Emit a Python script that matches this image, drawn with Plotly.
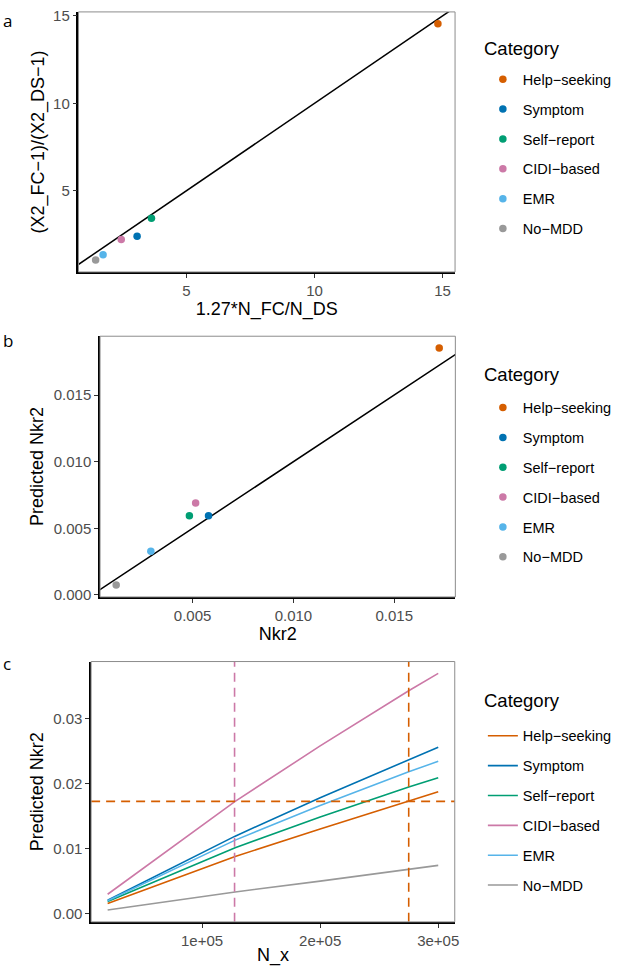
import plotly.graph_objects as go

# ---- data ----
categories = ["Help−seeking", "Symptom", "Self−report", "CIDI−based", "EMR", "No−MDD"]
colors = ["#D55E00", "#0072B2", "#009E73", "#CC79A7", "#56B4E9", "#999999"]

# panel a: observed ratio vs expected ratio
ratio_expected = [14.82, 3.07, 3.63, 2.45, 1.74, 1.45]
ratio_observed = [14.55, 2.40, 3.42, 2.21, 1.34, 1.03]

# panel b: Nkr2 vs predicted Nkr2
nkr2 = [0.01723, 0.00579, 0.00484, 0.00515, 0.00293, 0.00121]
nkr2_pred = [0.01852, 0.00594, 0.00594, 0.00690, 0.00328, 0.00074]

# panel c: predicted Nkr2 as a function of N_x
n_x = [20000, 128000, 200000, 275000, 300000]
pred_curves = {
    "Help−seeking": [0.00152, 0.00874, 0.01298, 0.01722, 0.01869],
    "Symptom":      [0.00202, 0.01187, 0.01778, 0.02364, 0.02556],
    "Self−report":  [0.00182, 0.01010, 0.01480, 0.01944, 0.02086],
    "CIDI−based":   [0.00293, 0.01722, 0.02576, 0.03424, 0.03692],
    "EMR":          [0.00192, 0.01126, 0.01657, 0.02177, 0.02338],
    "No−MDD":       [0.00050, 0.00328, 0.00495, 0.00672, 0.00737],
}
ref_nkr2 = 0.01722          # horizontal dashed line (Help-seeking Nkr2)
n_cidi = 127500             # pink vertical dashed line
n_help = 275000             # orange vertical dashed line

identity = [-1, 100]        # y = x reference line

W, H = 622, 978
FONT = "Liberation Sans, Arial, sans-serif"


def px_x(a, b):
    return [a / W, b / W]


def px_y(top, bottom):
    return [1 - bottom / H, 1 - top / H]


fig = go.Figure()

# panel a
fig.add_trace(go.Scatter(x=identity, y=identity, mode="lines", line=dict(color="black", width=1.5),
                         showlegend=False, hoverinfo="skip", xaxis="x", yaxis="y"))
for cat, col, xv, yv in zip(categories, colors, ratio_expected, ratio_observed):
    fig.add_trace(go.Scatter(x=[xv], y=[yv], mode="markers", name=cat,
                             marker=dict(color=col, size=7.5), legend="legend",
                             legendgroup="a" + cat, xaxis="x", yaxis="y"))

# panel b
fig.add_trace(go.Scatter(x=identity, y=identity, mode="lines", line=dict(color="black", width=1.5),
                         showlegend=False, hoverinfo="skip", xaxis="x2", yaxis="y2"))
for cat, col, xv, yv in zip(categories, colors, nkr2, nkr2_pred):
    fig.add_trace(go.Scatter(x=[xv], y=[yv], mode="markers", name=cat,
                             marker=dict(color=col, size=7.5), legend="legend2",
                             legendgroup="b" + cat, xaxis="x2", yaxis="y2"))

# panel c
for cat, col in zip(categories, colors):
    fig.add_trace(go.Scatter(x=n_x, y=pred_curves[cat], mode="lines", name=cat,
                             line=dict(color=col, width=1.6), legend="legend3",
                             legendgroup="c" + cat, xaxis="x3", yaxis="y3"))

dash = "9px,6px"
fig.add_shape(type="line", xref="x3", yref="y3 domain", x0=n_cidi, x1=n_cidi, y0=0, y1=1,
              line=dict(color="#CC79A7", width=1.6, dash=dash))
fig.add_shape(type="line", xref="x3", yref="y3 domain", x0=n_help, x1=n_help, y0=0, y1=1,
              line=dict(color="#D55E00", width=1.6, dash=dash))
fig.add_shape(type="line", xref="x3 domain", yref="y3", x0=0, x1=1, y0=ref_nkr2, y1=ref_nkr2,
              line=dict(color="#D55E00", width=1.6, dash=dash))

# grey panel borders
for xr, yr in [("x", "y"), ("x2", "y2"), ("x3", "y3")]:
    fig.add_shape(type="rect", xref=xr + " domain", yref=yr + " domain", x0=0, x1=1, y0=0, y1=1,
                  line=dict(color="#8C8C8C", width=1), layer="above")

axis_common = dict(showgrid=False, zeroline=False, showline=True, linecolor="black", linewidth=1.5,
                   ticks="outside", ticklen=4, tickwidth=1, tickcolor="#333333",
                   tickfont=dict(size=15, color="#4D4D4D", family=FONT))
title_font = dict(size=18, color="black", family=FONT)

fig.update_layout(
    width=W, height=H,
    margin=dict(l=0, r=0, t=0, b=0),
    plot_bgcolor="white", paper_bgcolor="white",
    font=dict(family=FONT),
    xaxis=dict(domain=px_x(79, 458), range=[0.78, 15.49], tickvals=[5, 10, 15],
               title=dict(text="1.27*N_FC/N_DS", font=title_font, standoff=1),
               anchor="y", **axis_common),
    yaxis=dict(domain=px_y(7, 270), range=[0.35, 15.23], tickvals=[5, 10, 15],
               title=dict(text="(X2_FC−1)/(X2_DS−1)", font=title_font, standoff=4),
               anchor="x", **axis_common),
    xaxis2=dict(domain=px_x(100.7, 458.3), range=[0.00041, 0.01803],
                tickvals=[0.005, 0.010, 0.015], tickformat=".3f",
                title=dict(text="Nkr2", font=title_font, standoff=1),
                anchor="y2", **axis_common),
    yaxis2=dict(domain=px_y(335, 598.7), range=[-0.00015, 0.01941],
                tickvals=[0.000, 0.005, 0.010, 0.015], tickformat=".3f",
                title=dict(text="Predicted Nkr2", font=title_font, standoff=5),
                anchor="x2", **axis_common),
    xaxis3=dict(domain=px_x(91.7, 457.7), range=[6000, 314000],
                tickvals=[100000, 200000, 300000], ticktext=["1e+05", "2e+05", "3e+05"],
                title=dict(text="N_x", font=title_font, standoff=1),
                anchor="y3", **axis_common),
    yaxis3=dict(domain=px_y(664, 927.3), range=[-0.00132, 0.03874],
                tickvals=[0.00, 0.01, 0.02, 0.03], tickformat=".2f",
                title=dict(text="Predicted Nkr2", font=title_font, standoff=5),
                anchor="x3", **axis_common),
)

legend_common = dict(xanchor="left", yanchor="top", bgcolor="rgba(0,0,0,0)",
                     font=dict(size=14.5, color="black", family=FONT),
                     tracegroupgap=8)
legend_x = 486 / W
fig.update_layout(
    legend=dict(x=legend_x, y=1 - 59 / H, **legend_common),
    legend2=dict(x=legend_x, y=1 - 391 / H, **legend_common),
    legend3=dict(x=legend_x, y=1 - 723 / H, **legend_common),
)

# legend titles
for ymid in [44, 374, 703]:
    fig.add_annotation(text="Category", xref="paper", yref="paper", x=485 / W, y=1 - ymid / H,
                       xanchor="left", yanchor="middle", showarrow=False,
                       font=dict(size=18.5, color="black", family=FONT))

# panel letters
for letter, ymid in [("a", 16), ("b", 339), ("c", 666)]:
    fig.add_annotation(text=letter, xref="paper", yref="paper", x=1 / W, y=1 - ymid / H,
                       xanchor="left", yanchor="middle", showarrow=False,
                       font=dict(size=17, color="black", family="Open Sans, sans-serif"))

fig.write_html("out.html", config={"displayModeBar": False},
               post_script="document.body.style.margin='0px';")
